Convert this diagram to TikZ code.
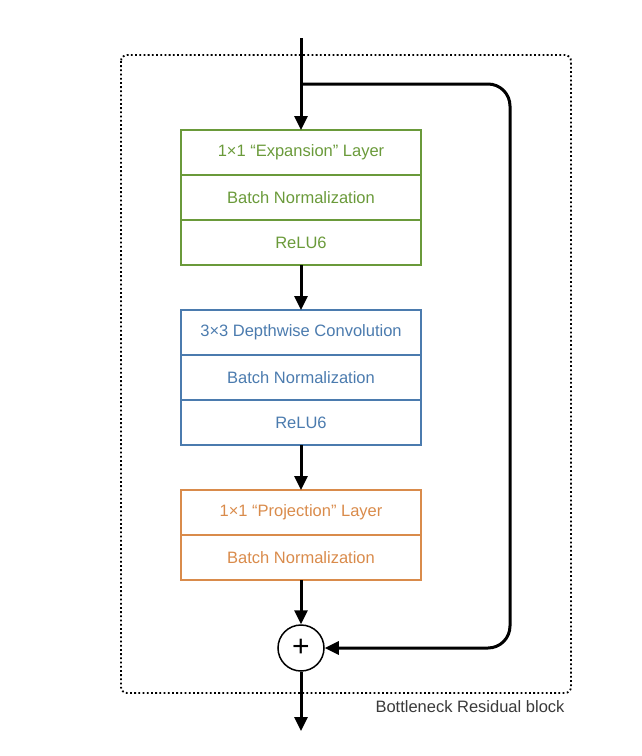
\documentclass[tikz,border=0pt]{standalone}
\usepackage{fontspec}
\setmainfont{Liberation Sans}
\usetikzlibrary{positioning,arrows.meta}
\definecolor{expgreen}{HTML}{6A9A3A}
\definecolor{dwblue}{HTML}{4B7BAE}
\definecolor{projorange}{HTML}{D98B4B}
\definecolor{labelgray}{HTML}{3A3A3A}
\tikzset{
    layerbox/.style={draw=#1, text=#1, line width=1.6pt, rectangle, outer sep=0pt,
        minimum width=240pt, minimum height=45pt, font=\fontsize{16.5}{20}\selectfont},
    flow/.style={line width=3pt, -{Triangle[length=14pt,width=13pt]}},
}

\begin{document}
\begin{tikzpicture}[x=1pt, y=-1pt]
    \useasboundingbox (0,0) rectangle (642,756);
    % dotted frame of the block
    \draw[line width=1.8pt, dash pattern=on 1.8pt off 2.4pt, rounded corners=6pt] (121,55) rectangle (571,693);
    \node[anchor=north east, text=labelgray, font=\fontsize{16.5}{20}\selectfont] (title) at (568,697) {Bottleneck Residual block};

    \node[layerbox=expgreen] (exp1) at (301,152.5) {1×1 “Expansion” Layer};
    \node[layerbox=expgreen, below=0pt of exp1] (exp2) {Batch Normalization};
    \node[layerbox=expgreen, below=0pt of exp2] (exp3) {ReLU6};

    \node[layerbox=dwblue] (dw1) at (301,332.5) {3×3 Depthwise Convolution};
    \node[layerbox=dwblue, below=0pt of dw1] (dw2) {Batch Normalization};
    \node[layerbox=dwblue, below=0pt of dw2] (dw3) {ReLU6};

    \node[layerbox=projorange] (proj1) at (301,512.5) {1×1 “Projection” Layer};
    \node[layerbox=projorange, below=0pt of proj1] (proj2) {Batch Normalization};

    \node[draw, circle, line width=1.5pt, minimum size=46pt, inner sep=0pt,
        font=\fontsize{30}{30}\selectfont] (add) at (301,648) {+};

    \coordinate (in) at (301,38);
    \coordinate (split) at (301,84);
    \coordinate (skip) at (510,84);
    \coordinate (out) at (301,731);

    \draw[flow] (in) -- (exp1.north);
    \draw[flow] (exp3.south) -- (dw1.north);
    \draw[flow] (dw3.south) -- (proj1.north);
    \draw[flow] (proj2.south) -- (add.north);
    \draw[flow] (add.south) -- (out);
    \draw[flow, rounded corners=22pt] (split) -- (skip) |- (add.east); % shortcut
\end{tikzpicture}
\end{document}
